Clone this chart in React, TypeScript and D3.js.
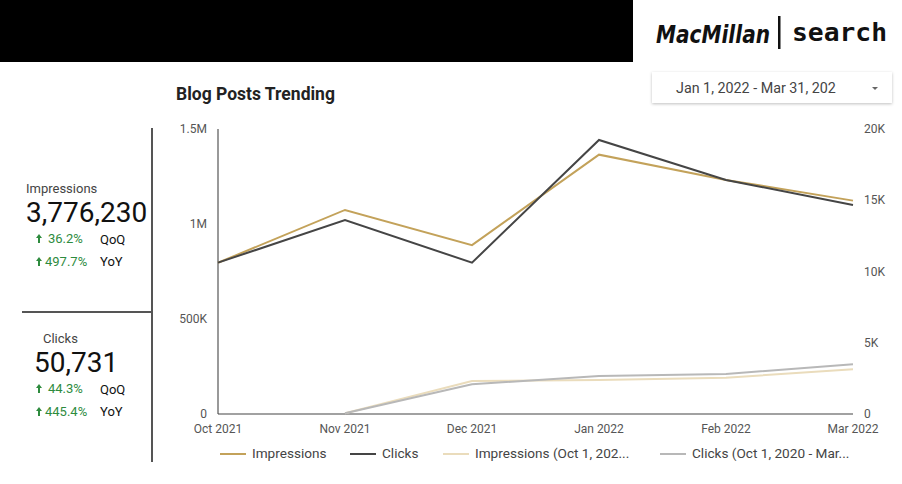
import React from "react";
import * as d3 from "d3";

const months = ["Oct 2021", "Nov 2021", "Dec 2021", "Jan 2022", "Feb 2022", "Mar 2022"];
const impressions = [796000, 1074000, 889000, 1365000, 1232000, 1123000];
const clicks = [10620, 13610, 10620, 19230, 16420, 14670];
const impressionsPrev: (number | null)[] = [null, 4000, 174000, 179000, 191000, 235000];
const clicksPrev: (number | null)[] = [null, 50, 2080, 2670, 2810, 3490];
const leftTicks = [0, 500000, 1000000, 1500000];
const leftTickLabels = ["0", "500K", "1M", "1.5M"];
const rightTicks = [0, 5000, 10000, 15000, 20000];
const rightTickLabels = ["0", "5K", "10K", "15K", "20K"];
const legendLabels = ["Impressions", "Clicks", "Impressions (Oct 1, 202...", "Clicks (Oct 1, 2020 - Mar..."];
const scorecards = [
  { label: "Impressions", value: "3,776,230", qoq: "36.2%", yoy: "497.7%" },
  { label: "Clicks", value: "50,731", qoq: "44.3%", yoy: "445.4%" },
];

const COLORS = ["#c3a25a", "#454545", "#eadcbc", "#b8b8b8"];
const FONT = "Roboto, 'Noto Sans', sans-serif";

export default function App() {
  const W = 902, H = 484;
  const x0 = 218, x1 = 853, yTop = 129, yBot = 414;
  const x = d3.scalePoint<string>().domain(months).range([x0, x1]);
  const yL = d3.scaleLinear().domain([0, 1500000]).range([yBot, yTop]);
  const yR = d3.scaleLinear().domain([0, 20000]).range([yBot, yTop]);

  const mk = (scale: d3.ScaleLinear<number, number>) =>
    d3.line<number | null>()
      .defined((d) => d != null)
      .x((_, i) => x(months[i])!)
      .y((d) => scale(d as number));

  const series = [
    { data: impressions as (number | null)[], scale: yL, color: COLORS[0] },
    { data: clicks as (number | null)[], scale: yR, color: COLORS[1] },
    { data: impressionsPrev, scale: yL, color: COLORS[2] },
    { data: clicksPrev, scale: yR, color: COLORS[3] },
  ];
  const drawOrder = [2, 3, 0, 1];
  const legendX = [220, 350, 443, 660];

  const arrow = (cx: number, cy: number) => (
    <g fill="#2e8b3e">
      <path d={`M${cx - 3},${cy - 1} L${cx},${cy - 5} L${cx + 3},${cy - 1} Z`} />
      <rect x={cx - 1} y={cy - 2} width={2} height={6} />
    </g>
  );

  return (
    <svg width={W} height={H} style={{ position: "absolute", left: 0, top: 0, fontFamily: FONT }}>
      <defs>
        <filter id="sh" x="-10%" y="-30%" width="120%" height="180%">
          <feDropShadow dx="0" dy="1" stdDeviation="1.5" floodColor="#000" floodOpacity="0.25" />
        </filter>
      </defs>
      <rect width={W} height={H} fill="#fff" />
      <rect x={0} y={0} width={633} height={62} fill="#000" />
      {/* logo */}
      <text x={656} y={43} fontSize={25} fontWeight={700} fill="#111" fontFamily="'DejaVu Sans', sans-serif" fontStyle="italic" textLength={114} lengthAdjust="spacingAndGlyphs">MacMillan</text>
      <rect x={778} y={16} width={2.5} height={33} fill="#111" />
      <text x={792} y={41} fontSize={25} fill="#111" fontFamily="'DejaVu Sans Mono', monospace" fontWeight={700} textLength={95} lengthAdjust="spacingAndGlyphs">search</text>
      {/* date box */}
      <rect x={652} y={72} width={240} height={31} fill="#fff" filter="url(#sh)" />
      <text x={676} y={93} fontSize={14.3} fill="#444">Jan 1, 2022 - Mar 31, 202</text>
      <path d="M872,87 L878,87 L875,90 Z" fill="#666" />

      {/* scorecards */}
      <line x1={152} x2={152} y1={128} y2={462} stroke="#555" strokeWidth={2} />
      <line x1={22} x2={152} y1={312} y2={312} stroke="#555" strokeWidth={2} />
      {scorecards.map((s, i) => {
        const lx = i === 0 ? 26 : 43;
        const vx = i === 0 ? 26 : 34;
        const by = i === 0 ? 0 : 150;
        return (
          <g key={s.label}>
            <text x={lx} y={193 + by} fontSize={13} fill="#444">{s.label}</text>
            <text x={vx} y={222 + by} fontSize={28} fill="#111">{s.value}</text>
            {arrow(39, 239 + by)}
            <text x={48} y={243 + by} fontSize={13} fill="#2e8b3e">{s.qoq}</text>
            <text x={100} y={244 + by} fontSize={13} fill="#111">QoQ</text>
            {arrow(39, 262 + by)}
            <text x={45} y={266 + by} fontSize={13} fill="#2e8b3e">{s.yoy}</text>
            <text x={100} y={266 + by} fontSize={13} fill="#111">YoY</text>
          </g>
        );
      })}

      {/* title */}
      <text x={176} y={100} fontSize={17.5} fontWeight={700} fill="#222">Blog Posts Trending</text>

      {/* axes */}
      <line x1={x0} x2={x0} y1={yTop} y2={yBot} stroke="#555" strokeWidth={1.2} />
      <line x1={x0} x2={x1} y1={yBot} y2={yBot} stroke="#444" strokeWidth={1.2} />
      {leftTicks.map((t, i) => (
        <text key={t} x={207} y={yL(t) + 4} fontSize={12} fill="#555" textAnchor="end">{leftTickLabels[i]}</text>
      ))}
      {rightTicks.map((t, i) => (
        <text key={t} x={864} y={yR(t) + 4} fontSize={12} fill="#555">{rightTickLabels[i]}</text>
      ))}
      {months.map((m) => (
        <text key={m} x={x(m)!} y={433} fontSize={12} fill="#555" textAnchor="middle">{m}</text>
      ))}

      {/* lines */}
      {drawOrder.map((k) => (
        <path key={k} d={mk(series[k].scale)(series[k].data) || ""} fill="none" stroke={series[k].color} strokeWidth={2} />
      ))}

      {/* legend */}
      {legendLabels.map((l, i) => (
        <g key={l}>
          <line x1={legendX[i]} x2={legendX[i] + 26} y1={454} y2={454} stroke={COLORS[i]} strokeWidth={2} />
          <text x={legendX[i] + 32} y={458} fontSize={13.6} fill="#444">{l}</text>
        </g>
      ))}
    </svg>
  );
}
